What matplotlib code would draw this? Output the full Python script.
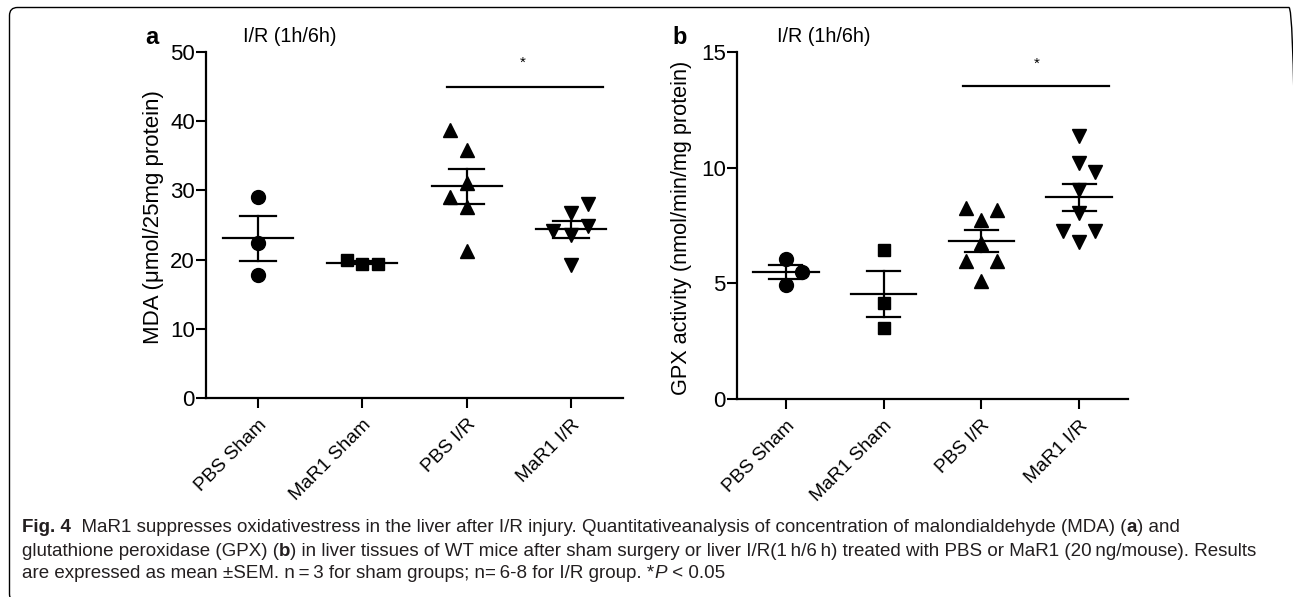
import numpy as np
import matplotlib
matplotlib.use("Agg")
import matplotlib.pyplot as plt
from matplotlib.patches import FancyBboxPatch
from matplotlib.transforms import IdentityTransform

plt.rcParams['font.family'] = ['Liberation Sans', 'DejaVu Sans']

# ---- data ----
groups = ['PBS Sham', 'MaR1 Sham', 'PBS I/R', 'MaR1 I/R']

mda_pbs_sham = [29.0, 22.4, 17.8]
mda_mar1_sham = [20.0, 19.3, 19.3]
mda_pbs_ir = [38.7, 35.9, 31.1, 29.0, 27.6, 21.3]
mda_mar1_ir = [28.0, 26.7, 24.8, 24.1, 23.6, 19.2]

gpx_pbs_sham = [6.05, 5.48, 4.94]
gpx_mar1_sham = [6.43, 4.15, 3.07]
gpx_pbs_ir = [8.26, 8.18, 7.75, 6.74, 5.95, 5.95, 5.09]
gpx_mar1_ir = [11.35, 10.2, 9.83, 9.05, 8.03, 7.25, 7.25, 6.8]

# horizontal scatter of the dots (layout only, in category units)
spread_a = [[0, 0, 0],
            [-0.15, 0, 0.15],
            [-0.16, 0, 0, -0.16, 0, 0],
            [0.16, 0, 0.16, -0.17, 0, 0]]
spread_b = [[0, 0.16, 0],
            [0, 0, 0],
            [-0.16, 0.16, 0, 0, -0.16, 0.16, 0],
            [0, 0, 0.16, 0, 0, -0.16, 0.16, 0]]

markers = ['o', 's', '^', 'v']

W, H = 1293, 597
fig = plt.figure(figsize=(W / 100, H / 100), dpi=100)


def px(x, y):
    return x / W, 1 - y / H


def panel(rect, data, spread, ylim, yticks, ylabel, ylab_xy, ylab_size, letter, letter_x, title_x,
          sig_y, star_x, star_y):
    ax = fig.add_axes(rect)
    for i, (vals, off) in enumerate(zip(data, spread)):
        vals = np.array(vals)
        xs = i + np.array(off)
        ax.plot(xs, vals, linestyle='none', marker=markers[i], color='black',
                markersize=10 if markers[i] != 's' else 9, clip_on=False, zorder=3)
        m = vals.mean()
        sem = vals.std(ddof=1) / np.sqrt(len(vals))
        ax.plot([i - 0.335, i + 0.335], [m, m], color='black', lw=1.6, zorder=4)
        ax.plot([i - 0.17, i + 0.17], [m + sem, m + sem], color='black', lw=1.6, zorder=4)
        ax.plot([i - 0.17, i + 0.17], [m - sem, m - sem], color='black', lw=1.6, zorder=4)
        ax.plot([i, i], [m - sem, m + sem], color='black', lw=1.6, zorder=4)

    ax.plot([1.81, 3.31], [sig_y, sig_y], color='black', lw=1.6, clip_on=False)
    ax.text(star_x, star_y, '*', ha='center', va='center', fontsize=11, clip_on=False)

    ax.set_xlim(-0.5, 3.5)
    ax.set_ylim(*ylim)
    ax.set_yticks(yticks)
    ax.set_xticks(range(len(groups)))
    ax.set_xticklabels(groups, rotation=45, ha='right', rotation_mode='anchor', fontsize=13.8)
    ax.tick_params(axis='both', direction='out', length=7, width=1.5, labelsize=16, pad=1)
    ax.tick_params(axis='x', pad=6, labelsize=13.8)
    for s in ['top', 'right']:
        ax.spines[s].set_visible(False)
    for s in ['left', 'bottom']:
        ax.spines[s].set_linewidth(1.6)

    fx, fy = px(*ylab_xy)
    fig.text(fx, fy, ylabel, rotation=90, ha='center', va='center', fontsize=ylab_size)
    fx, fy = px(letter_x, 37)
    fig.text(fx, fy, letter, ha='left', va='center', fontsize=17, fontweight='bold')
    fx, fy = px(title_x, 37)
    fig.text(fx, fy, 'I/R (1h/6h)', ha='left', va='center', fontsize=14.2)
    return ax


panel([206 / W, 1 - 398 / H, 417 / W, 346 / H],
      [mda_pbs_sham, mda_mar1_sham, mda_pbs_ir, mda_mar1_ir], spread_a,
      (0, 50), [0, 10, 20, 30, 40, 50], 'MDA (\u03bcmol/25mg protein)', (153, 217), 16,
      'a', 145, 243, 45, 2.54, 48.4)

panel([737 / W, 1 - 399 / H, 391 / W, 347 / H],
      [gpx_pbs_sham, gpx_mar1_sham, gpx_pbs_ir, gpx_mar1_ir], spread_b,
      (0, 15), [0, 5, 10, 15], 'GPX activity (nmol/min/mg protein)', (682, 228), 15.6,
      'b', 672, 777, 13.55, 2.57, 14.5)

# ---- caption, drawn piece by piece so bold / italic bits sit inline ----
cap_font = ['Liberation Sans', 'DejaVu Sans']
cap_size = 13.5
caption = [
    [('Fig. 4', 'bold', 'normal'), ('  MaR1 suppresses oxidativestress in the liver after I/R injury. '
                                    'Quantitativeanalysis of concentration of malondialdehyde (MDA) (', 'normal', 'normal'),
     ('a', 'bold', 'normal'), (') and', 'normal', 'normal')],
    [('glutathione peroxidase (GPX) (', 'normal', 'normal'), ('b', 'bold', 'normal'),
     (') in liver tissues of WT mice after sham surgery or liver I/R(1\u2009h/6\u2009h) treated with PBS or MaR1 '
      '(20\u2009ng/mouse). Results', 'normal', 'normal')],
    [('are expressed as mean \u00b1SEM. n\u2009=\u20093 for sham groups; n=\u20096-8 for I/R group. *', 'normal', 'normal'),
     ('P', 'normal', 'italic'), (' < 0.05', 'normal', 'normal')],
]
line_y = [528, 551, 573]

renderer = fig.canvas.get_renderer()
for segs, ly in zip(caption, line_y):
    x = 22
    for txt, wt, st in segs:
        t = fig.text(x / W, 1 - ly / H, txt, ha='left', va='center', fontsize=cap_size,
                     fontweight=wt, fontstyle=st, family=cap_font, color='#231f20')
        bb = t.get_window_extent(renderer=renderer)
        x += bb.width

# rounded frame round the figure, in pixels; right and bottom edges fall just off the page
frame = FancyBboxPatch((9.5, -5), 1297 - 9.5, (H - 7.5) + 5,
                       boxstyle='round,pad=0,rounding_size=8', transform=IdentityTransform(),
                       fill=False, edgecolor='black', linewidth=1.0, clip_on=False)
fig.patches.append(frame)

fig.savefig('out.png', dpi=100)
